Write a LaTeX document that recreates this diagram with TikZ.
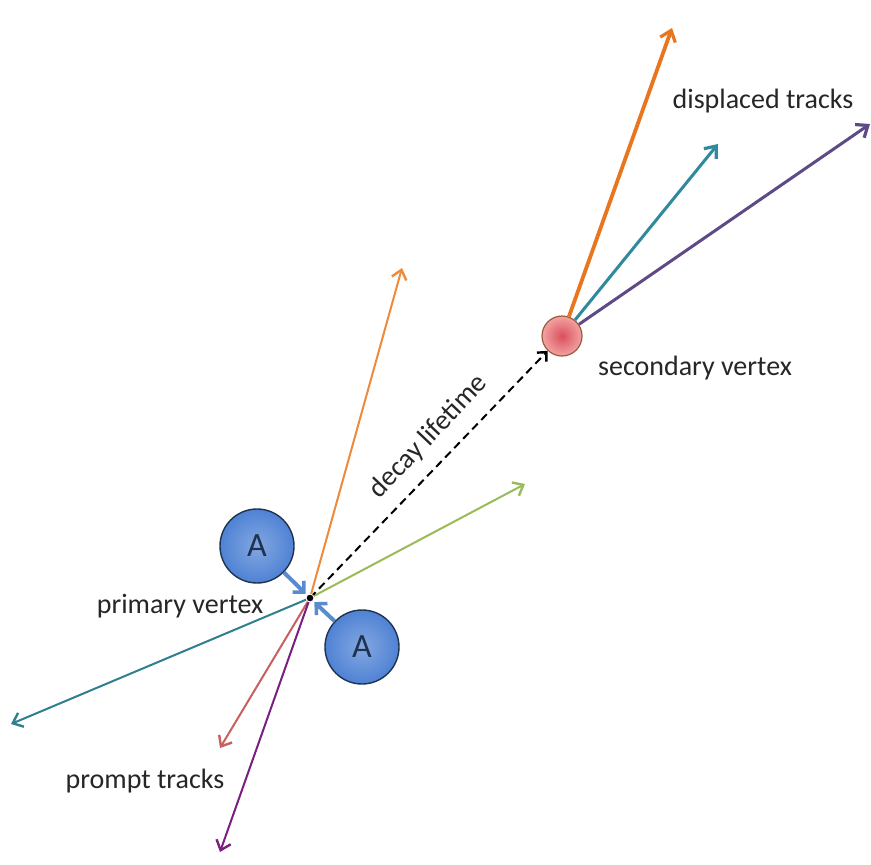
\documentclass[tikz,border=0pt]{standalone}
\usepackage{fontspec}
\setmainfont{Carlito}
\usetikzlibrary{arrows.meta,calc}
\definecolor{txt}{HTML}{262626}
\definecolor{porange}{HTML}{EE8A3C}
\definecolor{pgreen}{HTML}{9BBB59}
\definecolor{pteal}{HTML}{2F7F8F}
\definecolor{pred}{HTML}{C86060}
\definecolor{ppurple}{HTML}{7A1F80}
\definecolor{dorange}{HTML}{E8761E}
\definecolor{dteal}{HTML}{2E8A9C}
\definecolor{dpurple}{HTML}{5E4A86}
\definecolor{ablue}{HTML}{4F82D4}
\definecolor{aedge}{HTML}{1E3350}
\definecolor{barrow}{HTML}{5B8BCF}
\definecolor{svin}{HTML}{D9505C}
\definecolor{svout}{HTML}{F2A3A3}
\definecolor{svedge}{HTML}{9A5A3A}
\tikzset{
  lbl/.style={font=\fontsize{28}{32}\selectfont, text=txt, anchor=base, inner sep=0pt},
  prompttrack/.style={line width=2pt, -{Straight Barb[length=9pt,width=15pt,line width=2.4pt]}},
  disptrack/.style={line width=3pt, -{Straight Barb[length=10pt,width=16pt,line width=3.2pt]}},
  nucleus/.style={circle, minimum size=74pt, inner sep=0pt, draw=aedge, line width=1.4pt,
    inner color=ablue!70!white, outer color=ablue, font=\fontsize{34}{36}\selectfont, text=aedge},
  svstyle/.style={circle, minimum size=40pt, inner sep=0pt, draw=svedge, line width=1.2pt,
    inner color=svin, outer color=svout},
  beamarrow/.style={barrow, line width=4pt, -{Straight Barb[length=8pt,width=16pt,line width=3.5pt]}}
}
\begin{document}
\begin{tikzpicture}[x=1pt,y=-1pt]
\useasboundingbox (0,0) rectangle (871,865);
\fill[white] (0,0) rectangle (871,865);

% vertices
\coordinate (pv) at (310,598);
\node[svstyle] (sv) at (562,336) {};

% prompt track ends
\coordinate (po) at (402,268);
\coordinate (pg) at (525,484);
\coordinate (pt) at (11,724);
\coordinate (pr) at (220,748);
\coordinate (pp) at (220,852);

% displaced track ends
\coordinate (do) at (672,28);
\coordinate (dt) at (718,144);
\coordinate (dp) at (870,124);

% prompt tracks
\draw[prompttrack, porange] (pv) -- (po);
\draw[prompttrack, pgreen] (pv) -- (pg);
\draw[prompttrack, pteal] (pv) -- (pt);
\draw[prompttrack, pred] (pv) -- (pr);
\draw[prompttrack, ppurple] (pv) -- (pp);

% decay lifetime
\draw[black, line width=2pt, dash pattern=on 8pt off 5pt,
  -{Straight Barb[length=7pt,width=13pt,line width=2.4pt]}] (pv) -- (sv);

% displaced tracks
\draw[disptrack, dorange, line width=3.8pt] (sv) -- (do);
\draw[disptrack, dteal] (sv) -- (dt);
\draw[disptrack, dpurple] (sv) -- (dp);

% nuclei
\node[nucleus] (a1) at (257,546) {A};
\node[nucleus] (a2) at (362,647) {A};
\coordinate (b1) at ($(pv)!6pt!(a1)$);
\coordinate (b2) at ($(pv)!6pt!(a2)$);
\draw[beamarrow] (a1) -- (b1);
\draw[beamarrow] (a2) -- (b2);

% primary vertex dot
\node[circle, fill=black, draw=white, line width=1pt, minimum size=8pt, inner sep=0pt] (pvdot) at (pv) {};

% labels
\node[lbl] (lpv) at (180,613) {primary vertex};
\node[lbl] (lpt) at (145,788) {prompt tracks};
\node[lbl] (lsv) at (695,375) {secondary vertex};
\node[lbl] (ldt) at (763,108) {displaced tracks};
\node[lbl, rotate=46.5] (ldl) at (434,442) {decay lifetime};
\end{tikzpicture}
\end{document}
